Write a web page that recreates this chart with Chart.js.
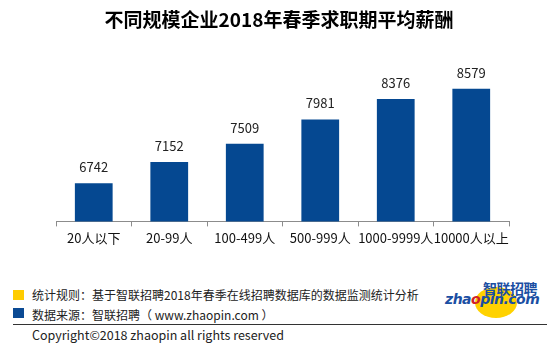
<!DOCTYPE html>
<html>
<head>
<meta charset="utf-8">
<script src="https://cdn.jsdelivr.net/npm/chart.js@4.4.0/dist/chart.umd.min.js"></script>
<style>
  body { margin: 0; background: #fff; font-family: "Noto Sans CJK SC", sans-serif; }
  #wrap { position: relative; width: 558px; height: 344px; overflow: hidden; }
  #title { position: absolute; top: 5px; left: 0; width: 558px; text-align: center; font-size: 19px; font-weight: bold; color: #000; }
  #chartBox { position: absolute; left: 0; top: 0; width: 558px; height: 250px; }
  .note { position: absolute; left: 32px; font-size: 12px; color: #222; line-height: 16px; }
  .sq { position: absolute; left: 13px; width: 11px; height: 10px; }
  #rule { position: absolute; left: 13px; top: 324px; width: 534px; height: 1px; background: #333; }
  #logo { position: absolute; left: 440px; top: 276px; width: 110px; height: 44px; }
  #logo .ball { position: absolute; left: 35px; top: 11px; width: 42px; height: 31px; border-radius: 50%; background: #ffd200; }
  #logo .cn { position: absolute; left: 43px; top: 2px; font-size: 14px; font-weight: bold; color: #1b4fa3; letter-spacing: -0.5px; }
  #logo .en { position: absolute; left: 5px; top: 15px; font-family: "DejaVu Sans", sans-serif; font-size: 14px; font-weight: bold; font-style: italic; color: #1b4fa3; letter-spacing: -0.5px; }
  #logo .en span { color: #d01f2a; }
</style>
</head>
<body>
<div id="wrap">
  <div id="chartBox"><canvas id="salaryChart"></canvas></div>
  <div id="title">不同规模企业2018年春季求职期平均薪酬</div>

  <div class="sq" style="top:290px;background:#ffcc00;"></div>
  <div class="note" style="top:287px;">统计规则：基于智联招聘2018年春季在线招聘数据库的数据监测统计分析</div>
  <div class="sq" style="top:308px;background:#0b4a94;"></div>
  <div class="note" style="top:307px;">数据来源：智联招聘（ www.zhaopin.com ）</div>
  <div id="rule"></div>
  <div class="note" style="top:327px;font-size:12.5px;">Copyright©2018 zhaopin all rights reserved</div>

  <div id="logo">
    <div class="ball"></div>
    <div class="cn">智联招聘</div>
    <div class="en">zha<span>o</span>pin.com</div>
  </div>
</div>
<script>
const categories = ['20人以下', '20-99人', '100-499人', '500-999人', '1000-9999人', '10000人以上'];
const salaries = [6742, 7152, 7509, 7981, 8376, 8579];

const BAR_COLOR = '#054891';
const FONT = '"Noto Sans CJK SC", sans-serif';

// writes each value above its bar
const valueLabels = {
    id: 'valueLabels',
    afterDatasetsDraw(chart) {
        const ctx = chart.ctx;
        const meta = chart.getDatasetMeta(0);
        ctx.save();
        ctx.font = '13px ' + FONT;
        ctx.fillStyle = '#222';
        ctx.textAlign = 'center';
        ctx.textBaseline = 'middle';
        meta.data.forEach((bar, i) => {
            ctx.fillText(chart.data.datasets[0].data[i], bar.x, bar.y - 16);
        });
        ctx.restore();
    }
};

const ctx = document.getElementById('salaryChart').getContext('2d');

new Chart(ctx, {
    type: 'bar',
    data: {
        labels: categories,
        datasets: [{
            data: salaries,
            backgroundColor: BAR_COLOR,
            barPercentage: 0.5,
            categoryPercentage: 1
        }]
    },
    options: {
        responsive: true,
        maintainAspectRatio: false,
        animation: false,
        layout: { padding: { top: 67, left: 56, right: 49, bottom: 0 } },
        plugins: {
            legend: { display: false },
            tooltip: { enabled: false }
        },
        scales: {
            y: { display: false, min: 6000, max: 9000 },
            x: {
                offset: true,
                grid: {
                    offset: true,
                    drawOnChartArea: false,
                    drawTicks: true,
                    tickColor: '#8c8c8c',
                    tickWidth: 1,
                    tickLength: 5
                },
                border: { color: '#8c8c8c' },
                ticks: {
                    color: '#111',
                    font: { size: 13, family: FONT },
                    padding: 4,
                    autoSkip: false,
                    maxRotation: 0
                }
            }
        }
    },
    plugins: [valueLabels]
});
</script>
</body>
</html>
